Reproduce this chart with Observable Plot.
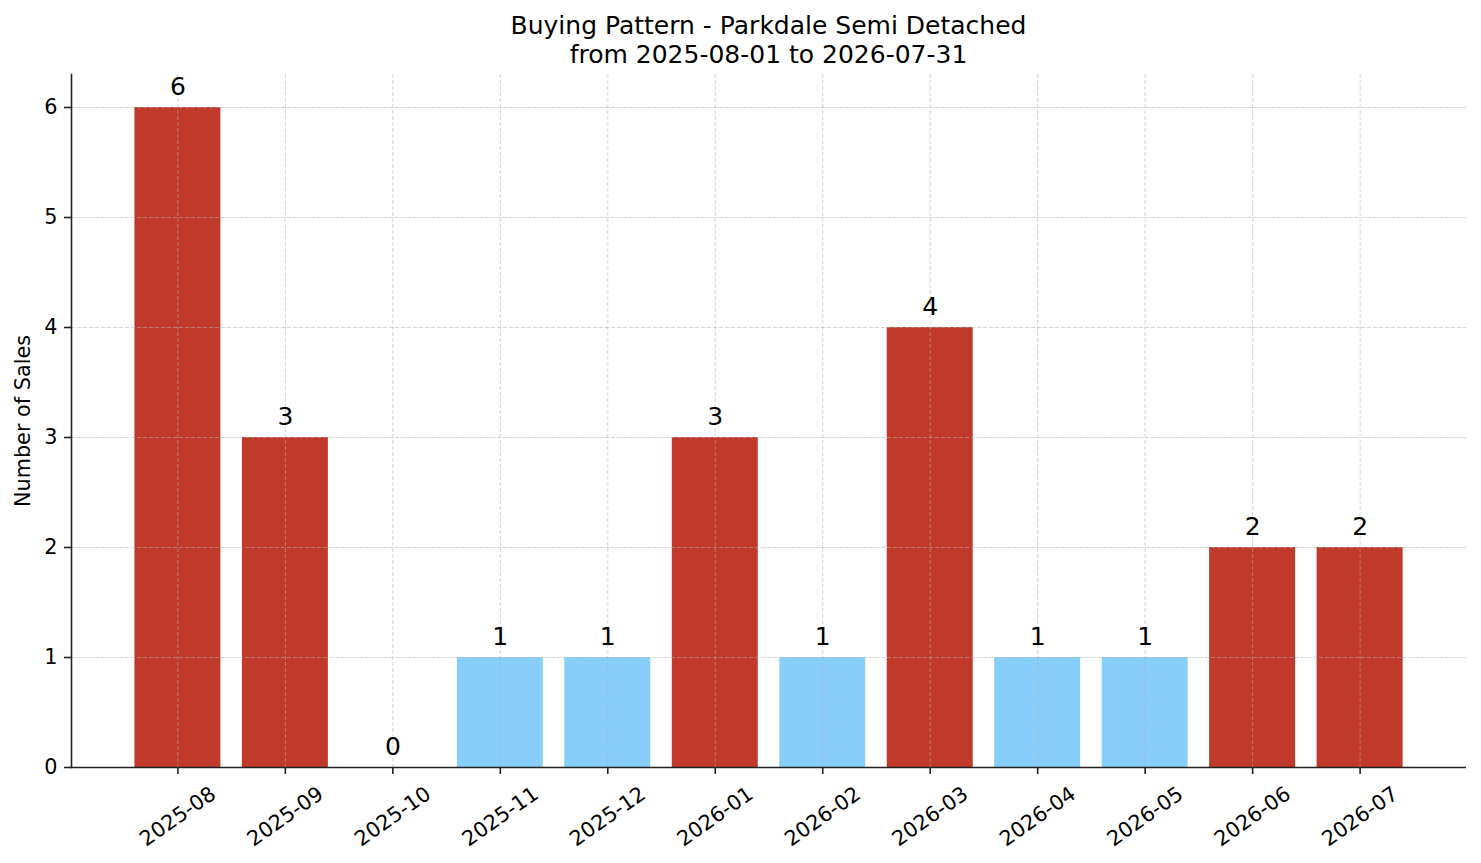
<!DOCTYPE html>
<html><head><meta charset="utf-8">
<script src="https://cdn.jsdelivr.net/npm/d3@7"></script>
<script src="https://cdn.jsdelivr.net/npm/@observablehq/plot@0.6"></script>
<style>
body{margin:0;background:#fff;font-family:"DejaVu Sans",sans-serif;}
#title{box-sizing:border-box;height:68px;padding:11px 15px 0 71px;text-align:center;font-size:25px;line-height:29px;color:#000;}
</style></head><body>
<div id="title"><div>Buying Pattern - Parkdale Semi Detached</div><div>from 2025-08-01 to 2026-07-31</div></div>
<div id="chart"></div>
<script>
const months = ["2025-08","2025-09","2025-10","2025-11","2025-12","2026-01","2026-02","2026-03","2026-04","2026-05","2026-06","2026-07"];
const sales = [6,3,0,1,1,3,1,4,1,1,2,2];
const yTicks = [0,1,2,3,4,5,6];
const yMax = 6.3;
const yLabel = "Number of Sales";

const data = months.map((m,i)=>({month:m, sales:sales[i]}));
const med = d3.median(sales);
const RED = "#c0392b", BLUE = "#87cefa", INK = "#222";
const gridStyle = {stroke:"#b0b0b0", strokeOpacity:0.55, strokeDasharray:"4,2", strokeWidth:1};

const plot = Plot.plot({
  width:1481, height:795, marginLeft:71, marginRight:15, marginTop:6, marginBottom:96,
  style:{fontFamily:"DejaVu Sans", fontSize:"20.8px", color:"#000", background:"#fff", overflow:"visible"},
  x:{type:"band", domain:months, paddingInner:0.2, paddingOuter:0.59, round:false},
  y:{domain:[0,yMax]},
  marks:[
    Plot.barY(data,{x:"month", y:"sales", fill:d=>d.sales>med?RED:BLUE}),
    Plot.ruleY(yTicks,{y:d=>d, ...gridStyle}),
    Plot.ruleX(months,{x:d=>d, ...gridStyle}),
    Plot.axisY({ticks:yTicks, tickSize:7, tickPadding:7, fontSize:20.8, label:null, stroke:INK, strokeWidth:1.6, tickFormat:d=>String(d)}),
    Plot.axisX({tickSize:7, tickFormat:()=>"", label:null, stroke:INK, strokeWidth:1.6}),
    Plot.text(months,{x:d=>d, frameAnchor:"bottom", dy:49, rotate:-35, textAnchor:"middle", lineAnchor:"middle", fontSize:20.8, text:d=>d}),
    Plot.text(data,{x:"month", y:"sales", text:d=>String(d.sales), dy:-12.5, lineAnchor:"bottom", fontSize:25}),
    Plot.text([yLabel],{frameAnchor:"left", dx:-48, rotate:-90, textAnchor:"middle", text:d=>d, fontSize:20.8}),
    Plot.ruleY([0],{stroke:INK, strokeWidth:1.6}),
    Plot.frame({anchor:"left", stroke:INK, strokeWidth:1.6})
  ]
});
document.getElementById("chart").appendChild(plot);
</script>
</body></html>
